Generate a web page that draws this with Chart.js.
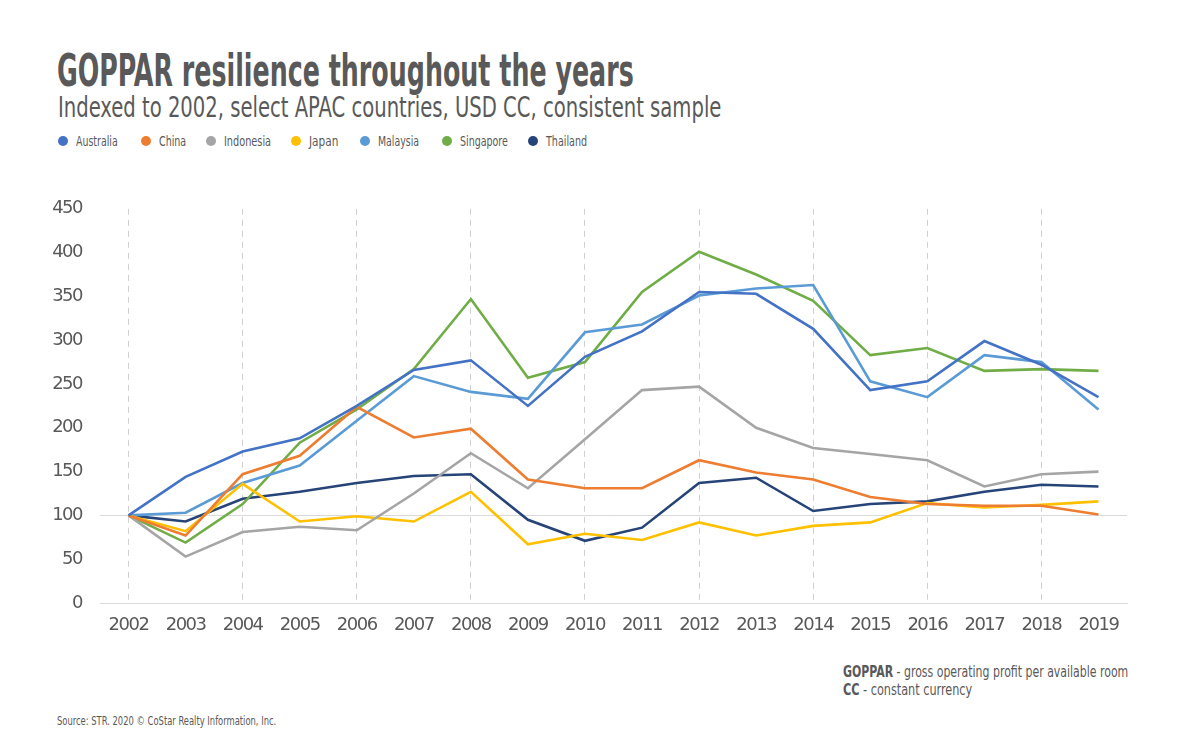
<!DOCTYPE html>
<html lang="en">
<head>
<meta charset="UTF-8">
<title>GOPPAR resilience throughout the years</title>
<script src="https://cdn.jsdelivr.net/npm/chart.js"></script>
<style>
  body { margin: 0; background: #fff; }
  .page { position: relative; width: 1200px; height: 740px; overflow: hidden;
          font-family: "DejaVu Sans", sans-serif; font-stretch: condensed; color: #595959; }
  .fit { position: absolute; white-space: nowrap; transform-origin: left top; }
  #title { left: 57px; top: 45px; font-size: 44px; font-weight: bold; }
  #subtitle { left: 58px; top: 91px; font-size: 28px; }
  .legItem { position: absolute; top: 133px; height: 17px; }
  .legDot { position: absolute; left: 0; top: 3px; width: 10px; height: 10px; border-radius: 50%; }
  .page .legText { left: 18px; top: 0; font-size: 14.5px; }
  #chartBox { position: absolute; left: 0; top: 180px; width: 1200px; height: 470px; }
  .note { left: 843px; font-size: 16px; }
  #source { left: 57px; top: 714px; font-size: 12px; }
</style>
</head>
<body>
<div class="page">
  <div id="title" class="fit" data-w="577">GOPPAR resilience throughout the years</div>
  <div id="subtitle" class="fit" data-w="663">Indexed to 2002, select APAC countries, USD CC, consistent sample</div>
  <div id="legend"></div>
  <div id="chartBox"><canvas id="goppar"></canvas></div>
  <div class="note fit" style="top:662px" data-w="285"><b>GOPPAR</b> - gross operating profit per available room</div>
  <div class="note fit" style="top:680px" data-w="129"><b>CC</b> - constant currency</div>
  <div id="source" class="fit" data-w="219">Source: STR. 2020 © CoStar Realty Information, Inc.</div>
</div>
<script>
  // years on the x axis
  const years = ['2002','2003','2004','2005','2006','2007','2008','2009','2010',
                 '2011','2012','2013','2014','2015','2016','2017','2018','2019'];

  // GOPPAR index, 2002 = 100
  const australia = [100,144,173,188,225,266,277,225,281,310,355,353,313,243,253,299,272,235];
  const china     = [100, 77,147,168,224,189,199,141,131,131,163,149,141,121,113,111,111,101];
  const indonesia = [100, 53, 81, 87, 83,125,171,131,187,243,247,200,177,170,163,133,147,150];
  const japan     = [100, 82,136, 93, 99, 93,127, 67, 79, 72, 92, 77, 88, 92,114,109,112,116];
  const malaysia  = [100,103,137,157,208,259,241,233,309,318,351,359,363,253,235,283,275,221];
  const singapore = [100, 69,113,183,221,267,347,257,275,355,401,375,345,283,291,265,267,265];
  const thailand  = [100, 93,119,127,137,145,147, 95, 71, 86,137,143,105,113,116,127,135,133];

  const countries = ['Australia','China','Indonesia','Japan','Malaysia','Singapore','Thailand'];
  const colors    = ['#4472C4','#ED7D31','#A5A5A5','#FFC000','#5B9BD5','#70AD47','#264478'];
  const series    = [australia, china, indonesia, japan, malaysia, singapore, thailand];

  const yTicks = [0,50,100,150,200,250,300,350,400,450];

  // legend layout: left edge of each dot and width of its label
  const legLeft  = [58, 141, 206, 291, 360, 442, 528];
  const legWidth = [42, 27, 47, 29, 41, 48, 41];

  const legendEl = document.getElementById('legend');
  countries.forEach((name, i) => {
    const item = document.createElement('div');
    item.className = 'legItem';
    item.style.left = legLeft[i] + 'px';
    item.innerHTML = '<span class="legDot" style="background:' + colors[i] + '"></span>' +
                     '<span class="legText fit" data-w="' + legWidth[i] + '">' + name + '</span>';
    legendEl.appendChild(item);
  });

  // squeeze html text to the condensed width of the original
  document.querySelectorAll('.fit').forEach(el => {
    const w = el.scrollWidth;
    const target = +el.dataset.w;
    if (w > 0 && target) el.style.transform = 'scaleX(' + (target / w).toFixed(4) + ')';
  });

  const fontFam = '"DejaVu Sans", sans-serif';

  // tighter tick labels, the original uses a condensed face
  const tightText = {
    id: 'tightText',
    beforeLayout(chart) { chart.ctx.letterSpacing = '-1.5px'; },
    beforeDraw(chart) { chart.ctx.letterSpacing = '-1.5px'; }
  };

  new Chart(document.getElementById('goppar'), {
    type: 'line',
    data: {
      labels: years,
      datasets: series.map((vals, i) => ({
        label: countries[i],
        data: vals,
        borderColor: colors[i],
        backgroundColor: colors[i],
        borderWidth: 2.6,
        pointRadius: 0,
        tension: 0
      }))
    },
    plugins: [tightText],
    options: {
      responsive: true,
      maintainAspectRatio: false,
      animation: false,
      layout: { padding: { left: 0, right: 73, top: 7, bottom: 0 } },
      plugins: {
        legend: { display: false },
        tooltip: { enabled: false }
      },
      scales: {
        x: {
          offset: true,
          grid: {
            offset: false,
            drawTicks: false,
            lineWidth: 1,
            color: ctx => (ctx.index % 2 === 0 ? '#d0d0d0' : 'rgba(0,0,0,0)')
          },
          border: { display: true, color: '#d9d9d9', width: 1, dash: [6, 5] },
          ticks: {
            color: '#595959',
            padding: 12,
            font: { family: fontFam, size: 18 },
            maxRotation: 0,
            autoSkip: false
          },
          afterFit: s => { s.height = 47; }
        },
        y: {
          min: 0,
          max: 450,
          afterBuildTicks: s => { s.ticks = yTicks.map(v => ({ value: v })); },
          grid: {
            drawTicks: false,
            lineWidth: 1,
            color: ctx => (ctx.tick && ctx.tick.value === 100 ? '#d9d9d9' : 'rgba(0,0,0,0)')
          },
          border: { display: false },
          ticks: {
            color: '#595959',
            padding: 18,
            font: { family: fontFam, size: 18 }
          },
          afterFit: s => { s.width = 100; }
        }
      }
    }
  });
</script>
</body>
</html>
